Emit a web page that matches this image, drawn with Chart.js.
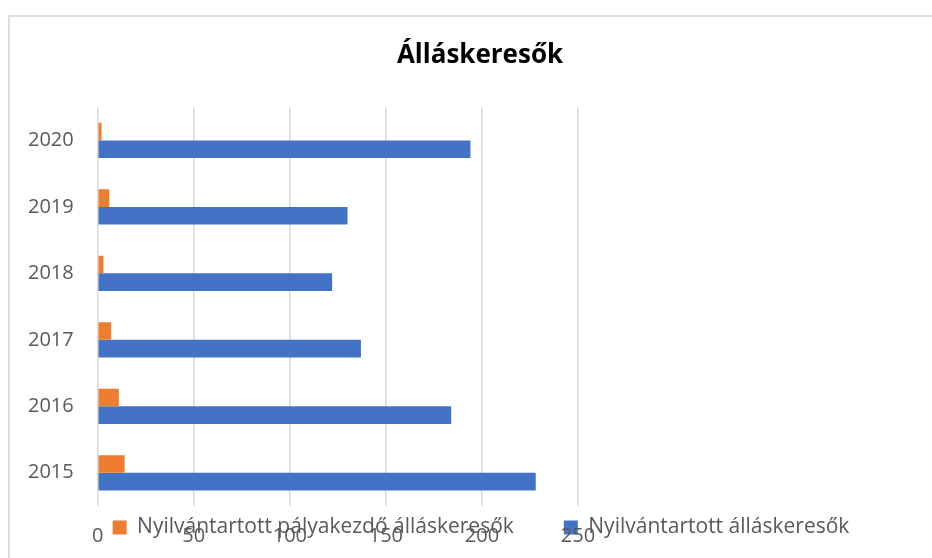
<!DOCTYPE html>
<html lang="hu">
<head>
<meta charset="utf-8">
<title>Álláskeresők</title>
<script src="https://cdn.jsdelivr.net/npm/chart.js@4"></script>
<style>
    html, body { margin: 0; padding: 0; background: #fff; }
    #wrap { position: relative; width: 932px; height: 558px; overflow: hidden; }
    #frame { position: absolute; left: 8px; top: 15px; width: 1000px; height: 700px; border: 2px solid #dedede; box-sizing: border-box; }
    #chart { position: absolute; left: 0; top: 0; }
</style>
</head>
<body>
<div id="wrap">
    <div id="frame"></div>
    <canvas id="chart" width="932" height="558"></canvas>
</div>
<script>
// years, top to bottom as in the picture
const years = ['2020', '2019', '2018', '2017', '2016', '2015'];
const palyakezdo = [2, 6, 3, 7, 11, 14];
const osszes = [194, 130, 122, 137, 184, 228];
const xTicks = [0, 50, 100, 150, 200, 250];

const seriesNames = ['Nyilvántartott pályakezdő álláskeresők', 'Nyilvántartott álláskeresők'];

Chart.defaults.font.family = "'Open Sans', sans-serif";
Chart.defaults.color = '#595959';

// Excel draws the legend over the axis labels, wider than the plot
const excelLayout = {
    id: 'excelLayout',
    beforeLayout(chart) {
        const lg = chart.legend;
        if (lg && !lg._wide) {
            const fit = lg.fit;
            lg.fit = function () {
                this.maxWidth = 960;
                fit.call(this);
                this.height = 10;
            };
            lg._wide = true;
        }
    },
    afterLayout(chart) {
        const t = chart.titleBlock;
        if (t) {
            t.left = 0;
            t.right = 960;
            t.width = 960;
        }
        const lg = chart.legend;
        if (lg) {
            lg.left = 0;
            lg.right = 962;
            lg.width = 962;
            lg.top = 467;
            lg.bottom = 558;
            lg.height = 91;
        }
    }
};

let datasets = [
    {
        label: seriesNames[0],
        data: palyakezdo,
        backgroundColor: '#ED7D31',
        categoryPercentage: 0.53,
        barPercentage: 1.0,
    },
    {
        label: seriesNames[1],
        data: osszes,
        backgroundColor: '#4472C4',
        categoryPercentage: 0.53,
        barPercentage: 1.0,
    },
];

new Chart(document.getElementById('chart'), {
    type: 'bar',
    data: {
        labels: years,
        datasets: datasets,
    },
    options: {
        indexAxis: 'y',
        responsive: false,
        animation: false,
        layout: {
            padding: { left: 4, right: 354, top: 0, bottom: 0 },
        },
        scales: {
            x: {
                min: 0,
                max: 250,
                afterBuildTicks: (scale) => {
                    scale.ticks = xTicks.map(v => ({ value: v }));
                },
                afterFit: (scale) => {
                    scale.height = 42;
                },
                grid: { color: '#d9d9d9', lineWidth: 1.5, drawTicks: false },
                border: { display: false },
                ticks: { padding: 18, font: { size: 20 }, color: '#595959' },
            },
            y: {
                grid: { display: false, drawTicks: false },
                border: { display: false },
                ticks: { padding: 24, font: { size: 20 }, color: '#595959' },
            },
        },
        plugins: {
            title: {
                display: true,
                text: 'Álláskeresők',
                color: '#000',
                font: { size: 26, weight: 'bold' },
                padding: { top: 40, bottom: 36 },
            },
            legend: {
                position: 'bottom',
                labels: {
                    boxWidth: 14,
                    boxHeight: 14,
                    padding: 50,
                    font: { size: 21 },
                    color: '#595959',
                },
            },
            tooltip: { enabled: false },
        },
    },
    plugins: [excelLayout],
});
</script>
</body>
</html>
